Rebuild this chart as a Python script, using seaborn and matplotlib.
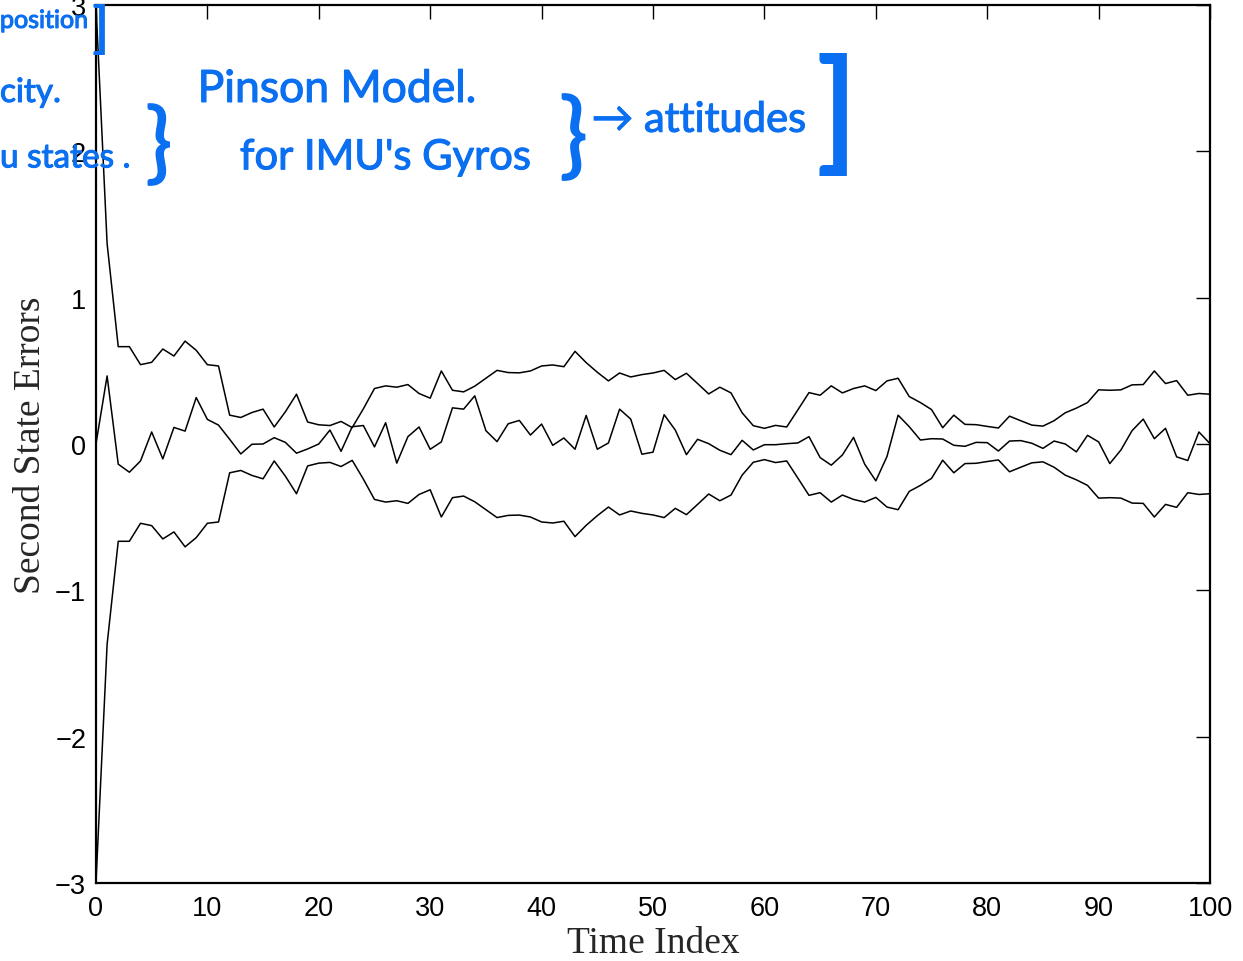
import numpy as np
import pandas as pd
import matplotlib
matplotlib.use('Agg')
import matplotlib.pyplot as plt
import matplotlib.patheffects as pe
import seaborn as sns

# values
time_index = list(range(101))

sigma_bound = [3.0, 1.37, 0.665, 0.665, 0.542, 0.558, 0.649, 0.601, 0.703, 0.64,
               0.542, 0.533, 0.197, 0.181, 0.215, 0.238, 0.116, 0.22, 0.34, 0.15,
               0.131, 0.126, 0.154, 0.112, 0.24, 0.379, 0.397, 0.388, 0.406, 0.345,
               0.313, 0.499, 0.367, 0.356, 0.395, 0.449, 0.503, 0.488, 0.486, 0.499,
               0.533, 0.54, 0.528, 0.633, 0.556, 0.49, 0.431, 0.485, 0.458, 0.474,
               0.485, 0.503, 0.44, 0.483, 0.413, 0.342, 0.388, 0.349, 0.213, 0.125,
               0.107, 0.127, 0.116, 0.233, 0.351, 0.333, 0.397, 0.349, 0.379, 0.397,
               0.365, 0.431, 0.449, 0.324, 0.283, 0.235, 0.111, 0.197, 0.134, 0.132,
               0.12, 0.109, 0.19, 0.159, 0.129, 0.122, 0.159, 0.213, 0.245, 0.283,
               0.37, 0.367, 0.37, 0.404, 0.406, 0.499, 0.413, 0.433, 0.333, 0.345,
               0.34]

state_error = [0.0, 0.465, -0.138, -0.193, -0.116, 0.082, -0.102, 0.113, 0.088, 0.317,
               0.168, 0.129, 0.032, -0.068, -0.002, 0.0, 0.043, 0.011, -0.063, -0.034,
               0.0, 0.095, -0.05, 0.118, 0.126, -0.02, 0.145, -0.131, 0.05, 0.116,
               -0.036, 0.014, 0.247, 0.238, 0.329, 0.091, 0.016, 0.138, 0.161, 0.061,
               0.136, -0.009, 0.041, -0.036, 0.195, -0.036, 0.007, 0.238, 0.17, -0.07,
               -0.056, 0.2, 0.095, -0.073, 0.032, 0.002, -0.043, -0.073, 0.025, -0.041,
               -0.005, -0.005, 0.002, 0.007, 0.05, -0.093, -0.145, -0.075, 0.045, -0.138,
               -0.252, -0.086, 0.197, 0.118, 0.027, 0.036, 0.034, -0.009, -0.016, 0.011,
               0.009, -0.048, 0.02, 0.023, 0.005, -0.03, 0.02, 0.0, -0.054, 0.059,
               0.014, -0.134, -0.041, 0.091, 0.17, 0.036, 0.107, -0.088, -0.113, 0.082,
               0.002]

x_ticks = [0, 10, 20, 30, 40, 50, 60, 70, 80, 90, 100]
y_ticks = [-3, -2, -1, 0, 1, 2, 3]

df = pd.DataFrame({'t': time_index, 'upper': sigma_bound,
                   'lower': [-v for v in sigma_bound], 'err': state_error})

sns.set_style('white')
plt.rcParams['font.family'] = ['Liberation Sans', 'DejaVu Sans']

fig = plt.figure(figsize=(12.43, 9.62), dpi=100)
ax = fig.add_axes([0.0772, 0.0811, 0.8963, 0.9127])

for col in ['upper', 'err', 'lower']:
    sns.lineplot(data=df, x='t', y=col, color='black', linewidth=1.1, ax=ax)

ax.set_xlim(0, 100)
ax.set_ylim(-3, 3)
ax.set_xticks(x_ticks)
ax.set_yticks(y_ticks)
ax.tick_params(direction='in', length=10, width=1, top=True, right=True,
               labelsize=19.5, colors='black')
ax.tick_params(axis='x', pad=9)
ax.tick_params(axis='y', pad=7)
for s in ax.spines.values():
    s.set_visible(True)
    s.set_color('black')
    s.set_linewidth(1.6)

ax.set_xlabel('Time Index', family='Liberation Serif', fontsize=27, labelpad=3)
ax.set_ylabel('Second State Errors', family='Liberation Serif', fontsize=27, labelpad=5)

# handwritten notes on top of the figure
blue = '#0a6ff0'
pen = [pe.withStroke(linewidth=0.8, foreground=blue)]
brace = [pe.withStroke(linewidth=1.2, foreground=blue)]
note = dict(color=blue, family='Lato', transform=fig.transFigure, clip_on=False)
fig.text(0.159, 0.893, 'Pinson Model.', fontsize=32, path_effects=pen, **note)
fig.text(0.193, 0.823, 'for IMU\'s Gyros', fontsize=30, path_effects=pen, **note)
fig.text(0.476, 0.862, '\u2192 attitudes', fontsize=30, path_effects=pen, **note)
fig.text(0.0, 0.97, 'position', fontsize=18, path_effects=pen, **note)
fig.text(0.0, 0.893, 'city.', fontsize=24, path_effects=pen, **note)
fig.text(0.0, 0.825, 'u states .', fontsize=24, path_effects=pen, **note)
fig.text(0.117, 0.82, '}', fontsize=64, path_effects=brace, **note)
fig.text(0.45, 0.826, '}', fontsize=68, path_effects=brace, **note)
fig.text(0.656, 0.838, ']', fontsize=96, fontweight='bold', **note)
fig.text(0.074, 0.952, ']', fontsize=40, fontweight='bold', **note)

fig.savefig('out.png', dpi=100)
